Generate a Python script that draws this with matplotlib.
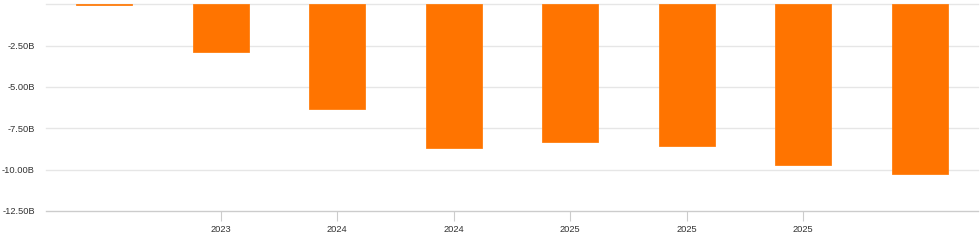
import matplotlib
matplotlib.use("Agg")
import matplotlib.pyplot as plt

plt.rcParams["font.family"] = ["Liberation Sans", "DejaVu Sans"]

periods = ["", "2023", "2024", "2024", "2025", "2025", "2025", ""]
values_b = [-0.05, -2.91, -6.35, -8.67, -8.33, -8.57, -9.70, -10.29]
y_ticks = [-2.5, -5.0, -7.5, -10.0, -12.5]
y_labels = ["-2.50B", "-5.00B", "-7.50B", "-10.00B", "-12.50B"]

W, H = 980, 240
fig = plt.figure(figsize=(W / 100, H / 100), dpi=100)
ax = fig.add_axes([46 / W, 1 - 211 / H, (978 - 46) / W, (211 - 4.3) / H])

x = list(range(len(values_b)))
ax.bar(x, values_b, width=0.48, color="#ff7400", edgecolor="#ff7f11", linewidth=0.6, zorder=3)

ax.set_xlim(-0.5, len(values_b) - 0.5)
ax.set_ylim(-12.5, 0)

for v in [0] + y_ticks[:-1]:
    ax.axhline(v, color="#e6e6e6", linewidth=1.0, zorder=1, clip_on=False)

ax.set_yticks(y_ticks)
ax.set_yticklabels(y_labels)
ax.tick_params(axis="y", length=0, pad=8, labelsize=6.7, labelcolor="#333333")

tick_pos = [i for i, p in enumerate(periods) if p]
ax.set_xticks(tick_pos)
ax.set_xticklabels([periods[i] for i in tick_pos])
ax.tick_params(axis="x", length=7, width=0.8, color="#cccccc", pad=3, labelsize=6.7, labelcolor="#333333")

for s in ["top", "right", "left"]:
    ax.spines[s].set_visible(False)
ax.spines["bottom"].set_color("#cccccc")
ax.spines["bottom"].set_linewidth(1.0)

fig.savefig("out.png", dpi=100)
